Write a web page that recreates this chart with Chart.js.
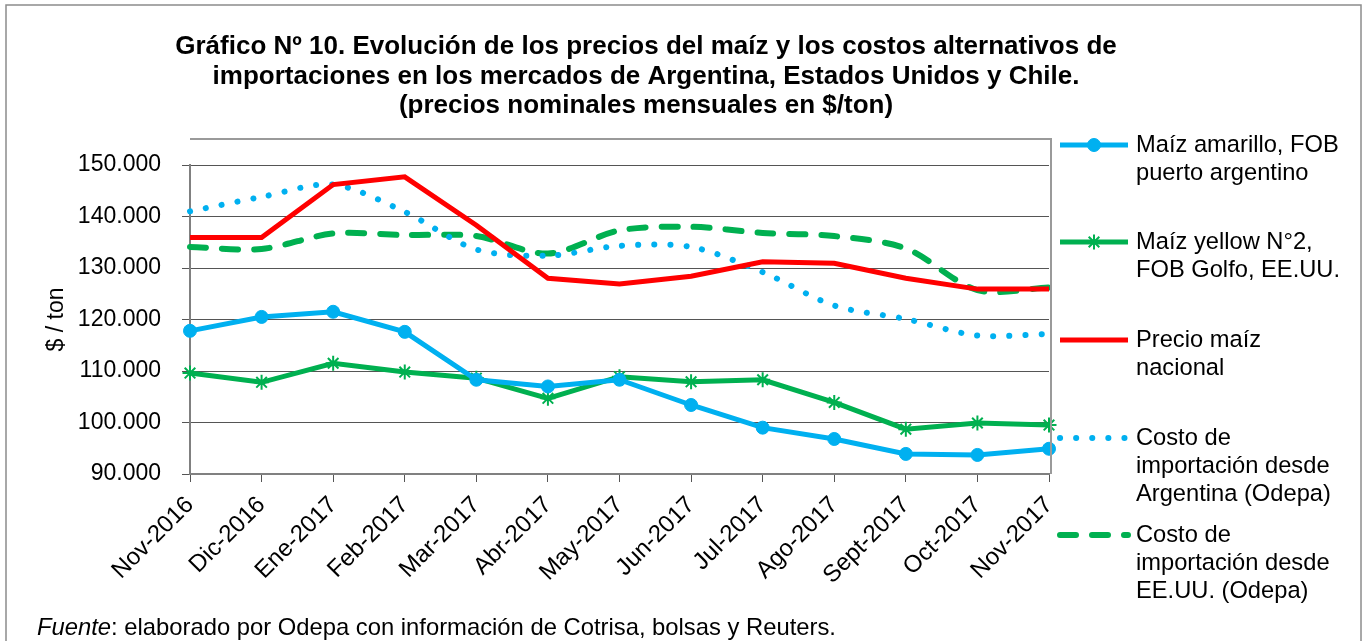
<!DOCTYPE html>
<html>
<head>
<meta charset="utf-8">
<script src="https://cdn.jsdelivr.net/npm/chart.js@4/dist/chart.umd.min.js"></script>
<style>
  html, body { margin: 0; padding: 0; background: #fff; }
  #wrap { width: 1368px; height: 641px; }
</style>
</head>
<body>
<div id="wrap"><canvas id="maizChart" width="1368" height="641"></canvas></div>
<script>
/* datos ($/ton) */
const months = ['Nov-2016', 'Dic-2016', 'Ene-2017', 'Feb-2017', 'Mar-2017', 'Abr-2017', 'May-2017',
                'Jun-2017', 'Jul-2017', 'Ago-2017', 'Sept-2017', 'Oct-2017', 'Nov-2017'];
const amarilloFob    = [117800, 120500, 121500, 117600, 108300, 107000, 108300, 103400, 99000, 96800, 93900, 93700, 94900];
const yellowGolfo    = [109600, 107800, 111500, 109800, 108600, 104700, 108900, 107900, 108300, 103900, 98700, 99900, 99500];
const precioNacional = [135900, 135900, 146200, 147700, 138300, 128000, 126900, 128400, 131200, 130900, 128000, 125900, 125900];
const costoArgentina = [141000, 143800, 146200, 140900, 133600, 132400, 134300, 134100, 129200, 122700, 120100, 116900, 117200];
const costoEEUU      = [134100, 133700, 136700, 136400, 136200, 132800, 137300, 138000, 136800, 136200, 133800, 125700, 126200];

const yMin = 90000, yMax = 150000, yStep = 10000;

const titleLines = [
    'Gráfico Nº 10. Evolución de los precios del maíz y los costos alternativos de',
    'importaciones en los mercados de Argentina, Estados Unidos y Chile.',
    '(precios nominales mensuales en $/ton)'
];
const legendLines = [
    ['Maíz amarillo, FOB', 'puerto argentino'],
    ['Maíz yellow N°2,', 'FOB Golfo, EE.UU.'],
    ['Precio maíz', 'nacional'],
    ['Costo de', 'importación desde', 'Argentina (Odepa)'],
    ['Costo de', 'importación desde', 'EE.UU. (Odepa)']
];
const legendY = [145, 242, 340, 438, 535];

const BLUE = '#00B0F0', GREEN = '#00B050', RED = '#FF0000';
const FONT = '"Liberation Sans", Arial, sans-serif';

Chart.defaults.font.family = FONT;
Chart.defaults.color = '#000';

const fmtMiles = v => String(v).replace(/\B(?=(\d{3})+(?!\d))/g, '.');

// marco, título, leyenda y fuente
const decorPlugin = {
    id: 'decor',
    beforeDraw(chart) {
        const ctx = chart.ctx;
        ctx.save();
        ctx.fillStyle = '#fff';
        ctx.fillRect(0, 0, chart.width, chart.height);
        ctx.restore();
    },
    afterDraw(chart) {
        const ctx = chart.ctx;
        const ca = chart.chartArea;
        ctx.save();

        // borde exterior
        ctx.strokeStyle = '#8c8c8c';
        ctx.lineWidth = 1.5;
        ctx.strokeRect(6, 5, 1355, 650);

        // borde del área de trazado (arriba y derecha)
        ctx.strokeStyle = '#9a9a9a';
        ctx.lineWidth = 2;
        ctx.beginPath();
        ctx.moveTo(ca.left, 139);
        ctx.lineTo(ca.right + 2, 139);
        ctx.lineTo(ca.right + 2, ca.bottom);
        ctx.stroke();

        // título
        ctx.fillStyle = '#000';
        ctx.font = 'bold 26px ' + FONT;
        ctx.textAlign = 'center';
        ctx.textBaseline = 'middle';
        titleLines.forEach((t, i) => ctx.fillText(t, 646, 47 + i * 29.5));

        // leyenda
        chart.data.datasets.forEach((ds, i) => {
            const y = legendY[i];
            ctx.save();
            ctx.strokeStyle = ds.borderColor;
            ctx.lineWidth = ds.borderWidth;
            ctx.lineCap = ds.borderCapStyle || 'butt';
            ctx.setLineDash(ds.borderDash || []);
            ctx.beginPath();
            ctx.moveTo(1060, y);
            ctx.lineTo(1128, y);
            ctx.stroke();
            ctx.restore();
            if (ds.pointRadius > 0) {
                ctx.save();
                ctx.fillStyle = ds.pointBackgroundColor;
                ctx.strokeStyle = ds.pointBorderColor;
                ctx.lineWidth = ds.pointBorderWidth;
                Chart.helpers.drawPoint(ctx, {
                    pointStyle: ds.pointStyle, radius: ds.pointRadius, borderWidth: ds.pointBorderWidth, rotation: 0
                }, 1094, y);
                ctx.restore();
            }
            ctx.fillStyle = '#000';
            ctx.font = '23.7px ' + FONT;
            ctx.textAlign = 'left';
            ctx.textBaseline = 'middle';
            legendLines[i].forEach((t, j) => ctx.fillText(t, 1136, y + j * 28.3));
        });

        // fuente
        ctx.font = 'italic 23.8px ' + FONT;
        ctx.textAlign = 'left';
        ctx.textBaseline = 'middle';
        ctx.fillText('Fuente', 37, 628);
        const w = ctx.measureText('Fuente').width;
        ctx.font = '23.8px ' + FONT;
        ctx.fillText(': elaborado por Odepa con información de Cotrisa, bolsas y Reuters.', 37 + w, 628);

        ctx.restore();
    }
};

new Chart(document.getElementById('maizChart').getContext('2d'), {
    type: 'line',
    data: {
        labels: months,
        datasets: [
            { label: 'Maíz amarillo, FOB puerto argentino', data: amarilloFob,
              borderColor: BLUE, borderWidth: 5, tension: 0,
              pointStyle: 'circle', pointRadius: 6.5, pointBackgroundColor: BLUE,
              pointBorderColor: BLUE, pointBorderWidth: 1 },
            { label: 'Maíz yellow N°2, FOB Golfo, EE.UU.', data: yellowGolfo,
              borderColor: GREEN, borderWidth: 5, tension: 0,
              pointStyle: 'star', pointRadius: 7.5, pointBackgroundColor: GREEN,
              pointBorderColor: GREEN, pointBorderWidth: 2 },
            { label: 'Precio maíz nacional', data: precioNacional,
              borderColor: RED, borderWidth: 5, tension: 0, pointRadius: 0 },
            { label: 'Costo de importación desde Argentina (Odepa)', data: costoArgentina,
              borderColor: BLUE, borderWidth: 6, borderDash: [0.1, 16], borderCapStyle: 'round',
              tension: 0.3, pointRadius: 0 },
            { label: 'Costo de importación desde EE.UU. (Odepa)', data: costoEEUU,
              borderColor: GREEN, borderWidth: 6, borderDash: [16, 16], borderCapStyle: 'round',
              tension: 0.3, pointRadius: 0 }
        ]
    },
    options: {
        responsive: false,
        animation: false,
        devicePixelRatio: 1,
        layout: { padding: { left: 40, right: 319, top: 165, bottom: 57 } },
        plugins: {
            legend: { display: false },
            title: { display: false },
            tooltip: { enabled: false }
        },
        scales: {
            x: {
                offset: false,
                grid: { display: true, drawOnChartArea: false, drawTicks: true, tickLength: 8, color: '#555', lineWidth: 1 },
                border: { display: true, color: '#808080', width: 2 },
                ticks: { minRotation: 45, maxRotation: 45, padding: 9, autoSkip: false,
                         font: { size: 24 }, color: '#000' },
                afterFit: s => { s.height = 110; }
            },
            y: {
                min: yMin, max: yMax,
                grid: { color: '#555', lineWidth: 1, drawTicks: true, tickLength: 8 },
                border: { display: true, color: '#808080', width: 2 },
                ticks: { stepSize: yStep, padding: 21, font: { size: 23 }, color: '#000',
                         callback: v => fmtMiles(v) },
                title: { display: true, text: '$ / ton', font: { size: 23 }, color: '#000',
                         padding: { top: 3, bottom: 0 } },
                afterFit: s => { s.width = 150; }
            }
        }
    },
    plugins: [decorPlugin]
});
</script>
</body>
</html>
